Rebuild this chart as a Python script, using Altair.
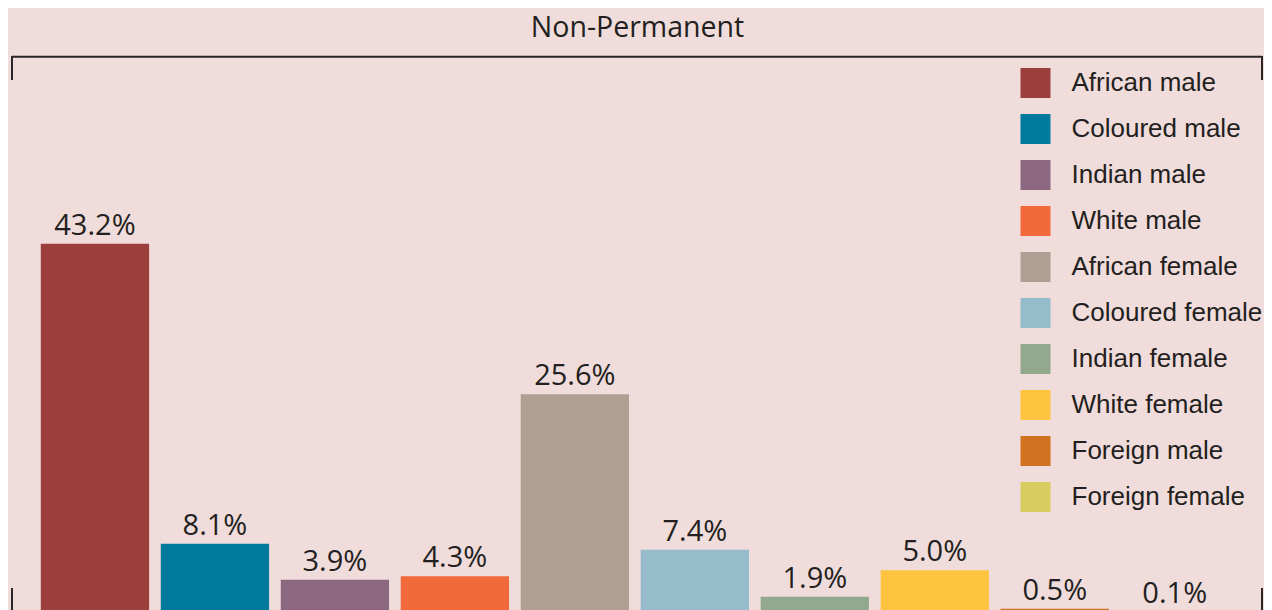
import altair as alt
import pandas as pd

categories = ["African male", "Coloured male", "Indian male", "White male",
              "African female", "Coloured female", "Indian female", "White female",
              "Foreign male", "Foreign female"]
values = [43.2, 8.1, 3.9, 4.3, 25.6, 7.4, 1.9, 5.0, 0.5, 0.1]
labels = ["43.2%", "8.1%", "3.9%", "4.3%", "25.6%", "7.4%", "1.9%", "5.0%", "0.5%", "0.1%"]
colors = ["#9B3F3D", "#007A9C", "#8B6880", "#F26A3C", "#B29F94",
          "#96BBCB", "#93A98D", "#FFC43F", "#D0721F", "#D8CC5E"]
title_text = "Non-Permanent"

df = pd.DataFrame({"group": categories, "value": values, "label": labels})

W, H = 1256, 605
BG = "#EFDCDB"
INK = "#231F20"

xscale = alt.Scale(domain=categories, paddingInner=0.0973, paddingOuter=0.2734,
                   range=[0, 1253.7], round=False)
yscale = alt.Scale(domain=[0, 70.8], nice=False, zero=True)

base = alt.Chart(df)

bars = base.mark_bar().encode(
    x=alt.X("group:N", scale=xscale, sort=categories, axis=None),
    y=alt.Y("value:Q", scale=yscale, axis=None),
    color=alt.Color(
        "group:N",
        sort=categories,
        scale=alt.Scale(domain=categories, range=colors),
        legend=alt.Legend(
            title=None,
            orient="none",
            legendX=1012.5,
            legendY=60,
            symbolType="square",
            symbolSize=900,
            symbolStrokeWidth=0,
            labelFont="Liberation Sans",
            labelFontSize=26,
            labelColor=INK,
            labelOffset=21,
            rowPadding=16,
            padding=0,
            labelLimit=400,
        ),
    ),
)

text = base.mark_text(
    font="Open Sans", fontSize=29, color=INK, baseline="alphabetic", align="center", dy=-9
).encode(
    x=alt.X("group:N", scale=xscale, sort=categories, axis=None),
    y=alt.Y("value:Q", scale=yscale, axis=None),
    text="label:N",
)

one = alt.Chart(pd.DataFrame({"k": [0]}))

rule_style = dict(color="#2A2627", strokeWidth=2)
top_h = one.mark_rule(**rule_style).encode(x=alt.value(4), x2=alt.value(1254), y=alt.value(48.7))
top_l = one.mark_rule(**rule_style).encode(x=alt.value(4), y=alt.value(48), y2=alt.value(72))
top_r = one.mark_rule(**rule_style).encode(x=alt.value(1254), y=alt.value(48), y2=alt.value(72))
bot_l = one.mark_rule(**rule_style).encode(x=alt.value(4), y=alt.value(580), y2=alt.value(610))
bot_r = one.mark_rule(**rule_style).encode(x=alt.value(1254), y=alt.value(580), y2=alt.value(610))

title = one.mark_text(
    font="Open Sans", fontSize=28.5, color=INK, baseline="alphabetic", align="center"
).encode(x=alt.value(629.5), y=alt.value(29.3), text=alt.value(title_text))

chart = alt.layer(bars, text, top_h, top_l, top_r, bot_l, bot_r, title).properties(
    width=W, height=H, background=BG, padding=0,
    autosize=alt.AutoSizeParams(type="none"),
).configure_view(stroke=None, fill=BG)

chart.save("out.html", embed_options={"renderer": "svg", "actions": False})
